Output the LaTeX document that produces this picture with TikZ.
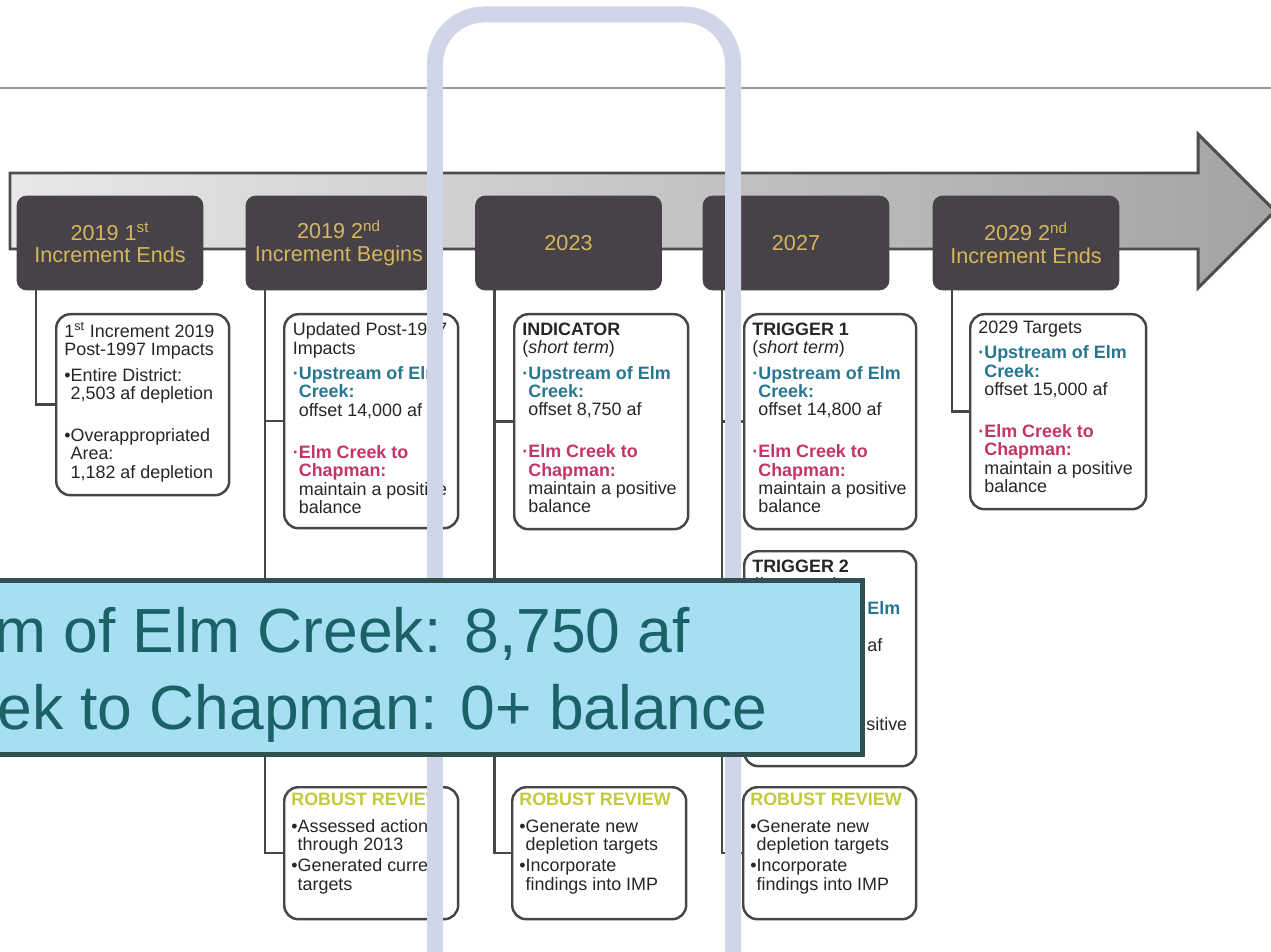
\documentclass[tikz,border=0pt]{standalone}
\usepackage{xcolor}
\usepackage{fontspec}
\setmainfont{Liberation Sans}
\usepackage{tikz}
\usetikzlibrary{positioning}
\definecolor{yeardark}{RGB}{70,66,72}
\definecolor{gold}{RGB}{214,182,92}
\definecolor{upcol}{RGB}{40,118,146}
\definecolor{chapcol}{RGB}{196,52,104}
\definecolor{robcol}{RGB}{192,202,58}
\definecolor{edgecol}{RGB}{70,70,70}
\definecolor{lav}{RGB}{208,214,232}
\definecolor{notefill}{RGB}{166,222,242}
\definecolor{noteedge}{RGB}{48,80,82}
\definecolor{notetxt}{RGB}{26,98,104}
\tikzstyle{yearbox}=[rectangle, rounded corners=5.5pt, fill=yeardark, draw=yeardark, text=gold, minimum width=3.72cm, minimum height=1.88cm, align=center, font=\fontsize{12.3}{12.8}\selectfont]
\tikzstyle{infobox}=[rectangle, rounded corners=8pt, draw=edgecol, line width=1.4pt, fill=white, anchor=north west, inner sep=0]
\tikzstyle{infotxt}=[anchor=north west, inner sep=0, align=left, text=black!85, font=\fontsize{10.2}{10.45}\selectfont]
\tikzstyle{bracket}=[draw=edgecol, line width=1.4pt]
\tikzstyle{notetext}=[anchor=base west, inner sep=0, text=notetxt, font=\fontsize{35.5}{43.5}\selectfont]
\newcommand{\ustr}[1]{\textcolor{upcol}{\textbf{#1}}}
\newcommand{\cstr}[1]{\textcolor{chapcol}{\textbf{#1}}}
\newcommand{\indt}{\hphantom{\textbf{·}}}
\newcommand{\indb}{\hphantom{•}}

\begin{document}
\begin{tikzpicture}[x=0.02cm, y=-0.02cm]
\useasboundingbox (0,0) rectangle (1271,952);
\draw[gray!80, line width=0.85pt] (0,88) -- (1271,88);
\draw[draw=black!70, line width=1.7pt, left color=black!9, right color=black!36] (10,173) -- (1198,173) -- (1198,134) -- (1275,211) -- (1198,288) -- (1198,249) -- (10,249) -- cycle;

\node[yearbox] (y1) at (110,243) {2019 1\textsuperscript{st}\\Increment Ends};
\node[yearbox] (y2) at (339,243) {2019 2\textsuperscript{nd}\\Increment Begins};
\node[yearbox] (y3) at (568.5,243) {2023};
\node[yearbox] (y4) at (796,243) {2027};
\node[yearbox] (y5) at (1026,243) {2029 2\textsuperscript{nd}\\Increment Ends};

\node[infobox, minimum width=3.46cm, minimum height=3.62cm] (b1) at (55,313) {};
\node[infobox, minimum width=3.48cm, minimum height=4.28cm] (b2) at (283,313) {};
\node[infobox, minimum width=3.48cm, minimum height=4.3cm] (b3) at (513,313) {};
\node[infobox, minimum width=3.44cm, minimum height=4.3cm] (b4) at (743,313) {};
\node[infobox, minimum width=3.44cm, minimum height=4.3cm] (b4b) at (743,550) {};
\node[infobox, minimum width=3.52cm, minimum height=3.9cm] (b5) at (969,313) {};
\node[infobox, minimum width=3.48cm, minimum height=2.64cm] (r2) at (283,786) {};
\node[infobox, minimum width=3.48cm, minimum height=2.64cm] (r3) at (511,786) {};
\node[infobox, minimum width=3.46cm, minimum height=2.64cm] (r4) at (742,786) {};

\draw[bracket] ([xshift=0.39cm]y1.south west) |- (b1.west);
\draw[bracket] ([xshift=0.39cm]y2.south west) |- (b2.west);
\draw[bracket] ([xshift=0.39cm]y2.south west) |- (r2.west);
\draw[bracket] ([xshift=0.39cm]y3.south west) |- (b3.west);
\draw[bracket] ([xshift=0.39cm]y3.south west) |- (r3.west);
\draw[bracket] ([xshift=0.39cm]y4.south west) |- (b4.west);
\draw[bracket] ([xshift=0.39cm]y4.south west) |- (b4b.west);
\draw[bracket] ([xshift=0.39cm]y4.south west) |- (r4.west);
\draw[bracket] ([xshift=0.39cm]y5.south west) |- (b5.west);

\node[infotxt] (t1) at ([shift={(9,9.5)}]b1.north west) {1\textsuperscript{st} Increment 2019\\Post-1997 Impacts\\[4pt]•Entire District:\\\indb 2,503 af depletion\\[13.5pt]•Overappropriated\\\indb Area:\\\indb 1,182 af depletion};
\node[infotxt] (t2) at ([shift={(9.5,9.5)}]b2.north west) {Updated Post-1997\\Impacts\\[4pt]\ustr{·Upstream of Elm}\\\indt\ustr{Creek:}\\\indt offset 14,000 af\\[13.5pt]\cstr{·Elm Creek to}\\\indt\cstr{Chapman:}\\\indt maintain a positive\\\indt balance};
\node[infotxt] (t3) at ([shift={(9,9.5)}]b3.north west) {\textbf{INDICATOR}\\(\textit{short term})\\[4pt]\ustr{·Upstream of Elm}\\\indt\ustr{Creek:}\\\indt offset 8,750 af\\[13.5pt]\cstr{·Elm Creek to}\\\indt\cstr{Chapman:}\\\indt maintain a positive\\\indt balance};
\node[infotxt] (t4) at ([shift={(9,9.5)}]b4.north west) {\textbf{TRIGGER 1}\\(\textit{short term})\\[4pt]\ustr{·Upstream of Elm}\\\indt\ustr{Creek:}\\\indt offset 14,800 af\\[13.5pt]\cstr{·Elm Creek to}\\\indt\cstr{Chapman:}\\\indt maintain a positive\\\indt balance};
\node[infotxt] (t4b) at ([shift={(9,9.5)}]b4b.north west) {\textbf{TRIGGER 2}\\(\textit{long term})};
\node[infotxt, anchor=base west] (f1) at (867,614) {\ustr{Elm}};
\node[infotxt, anchor=base west] (f2) at (867,651) {af};
\node[infotxt, anchor=base west] (f3) at (866,730) {sitive};
\node[infotxt] (t5) at ([shift={(9,7.5)}]b5.north west) {2029 Targets\\[4pt]\ustr{·Upstream of Elm}\\\indt\ustr{Creek:}\\\indt offset 15,000 af\\[13.5pt]\cstr{·Elm Creek to}\\\indt\cstr{Chapman:}\\\indt maintain a positive\\\indt balance};
\node[infotxt] (s2) at ([shift={(8,6.5)}]r2.north west) {\textcolor{robcol}{\textbf{ROBUST REVIEW}}\\[5pt]•Assessed actions\\\indb through 2013\\[1.5pt]•Generated current\\\indb targets};
\node[infotxt] (s3) at ([shift={(8,6.5)}]r3.north west) {\textcolor{robcol}{\textbf{ROBUST REVIEW}}\\[5pt]•Generate new\\\indb depletion targets\\[1.5pt]•Incorporate\\\indb findings into IMP};
\node[infotxt] (s4) at ([shift={(8,6.5)}]r4.north west) {\textcolor{robcol}{\textbf{ROBUST REVIEW}}\\[5pt]•Generate new\\\indb depletion targets\\[1.5pt]•Incorporate\\\indb findings into IMP};

\draw[lav, line width=9.1pt, rounded corners=28pt] (435,970) -- (435,14.5) -- (733,14.5) -- (733,970);

\node[draw=noteedge, fill=notefill, line width=2.85pt, minimum width=17.45cm, minimum height=3.48cm, inner sep=0] (note) at (426.25,667.5) {};
\node[notetext] (n1) at (-6,652) {m of Elm Creek: 8,750 af};
\node[notetext] (n2) at (-3,729) {ek to Chapman: 0+ balance};
\end{tikzpicture}
\end{document}
